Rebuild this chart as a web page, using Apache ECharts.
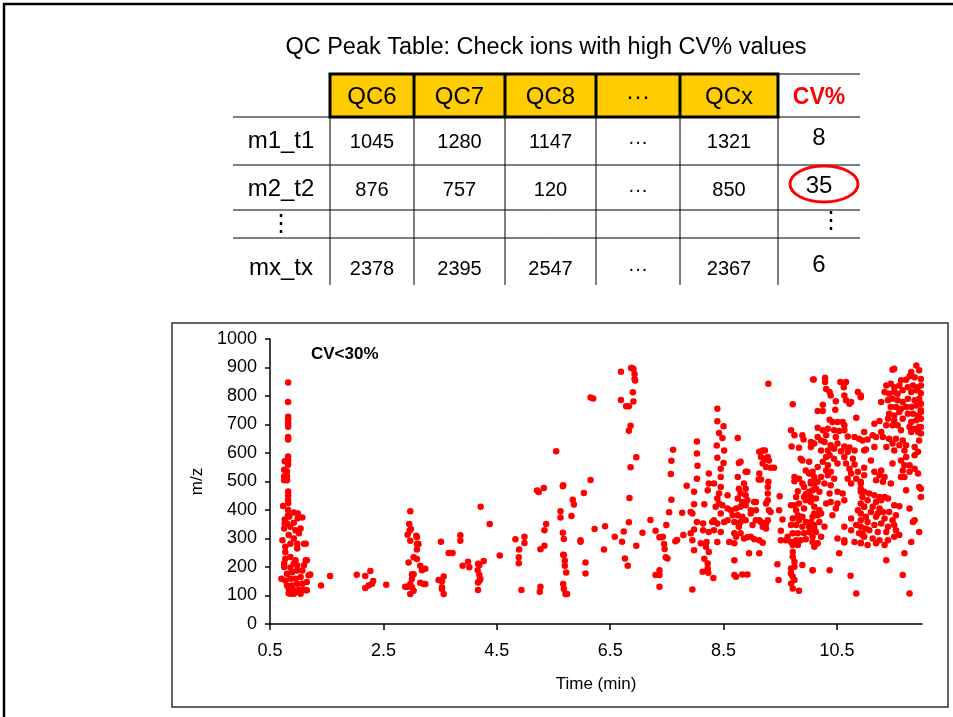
<!DOCTYPE html>
<html><head><meta charset="utf-8">
<script src="https://cdn.jsdelivr.net/npm/echarts@6/dist/echarts.min.js"></script>
<style>html,body{margin:0;padding:0;background:#fff}#c{width:953px;height:717px}</style>
</head><body><div id="c"></div>
<script>
// ---------- table content ----------
const tableTitle = 'QC Peak Table: Check ions with high CV% values';
const tableCols = ['QC6', 'QC7', 'QC8', '···', 'QCx'];
const cvHeader = 'CV%';
const tableRows = ['m1_t1', 'm2_t2', '⋮', 'mx_tx'];
const row1Vals = ['1045', '1280', '1147', '···', '1321'];
const row2Vals = ['876', '757', '120', '···', '850'];
const row3Vals = ['', '', '', '', ''];
const row4Vals = ['2378', '2395', '2547', '···', '2367'];
const cvVals = ['8', '35', '⋮', '6'];

// ---------- scatter axes ----------
const xTicks = [0.5, 2.5, 4.5, 6.5, 8.5, 10.5];
const yTicks = [0, 100, 200, 300, 400, 500, 600, 700, 800, 900, 1000];
const plotNote = 'CV<30%';

// ---------- scatter data: [time (min), m/z] ----------
const ionsEarly = [[0.82,847],[0.82,779],[0.82,727],[0.82,718],[0.82,704],[0.82,692],[0.82,656],[0.82,647],[0.82,588],[0.82,574],[0.82,559],[0.76,571],[0.8,571],[0.75,541],[0.8,535],[0.75,518],[0.8,518],[0.75,504],[0.8,504],[0.82,465],[0.82,451],[0.82,435],[0.82,424],[0.73,414],[0.82,400],[0.76,367],[0.82,382],[0.84,376],[0.92,391],[0.99,388],[1.07,374],[0.76,353],[0.8,353],[0.92,355],[0.99,371],[0.75,335],[0.86,341],[0.95,329],[1.04,335],[0.72,294],[0.83,312],[0.92,300],[1.01,318],[0.77,271],[0.86,282],[0.98,282],[1.1,282],[1.13,282],[0.77,253],[0.86,235],[0.98,265],[0.75,212],[0.77,229],[0.95,224],[1.13,224],[0.75,200],[0.86,198],[0.92,212],[0.98,205],[1.1,206],[1.15,224],[0.7,159],[0.8,176],[0.89,182],[0.98,188],[1.07,188],[0.77,153],[0.86,159],[0.95,159],[1.04,165],[1.18,171],[1.21,174],[0.8,135],[0.89,135],[0.98,141],[1.07,141],[1.15,147],[0.83,124],[0.92,118],[1.01,120],[1.1,120],[0.86,106],[0.92,106],[0.98,112],[1.04,106],[1.13,118],[1.15,118],[0.83,108],[0.89,112],[1.4,135],[1.56,168],[2.03,173],[2.18,168],[2.27,186],[2.32,151],[2.3,141],[2.24,135],[2.18,126],[2.55,138]];

const ionsMid = [[2.885,131],[2.927,131],[2.974,140],[3.003,129],[2.974,105],[3.033,117],[3.003,158],[3.003,175],[3.033,175],[2.944,216],[3.033,234],[3.091,228],[3.15,204],[3.18,189],[3.24,194],[3.15,145],[3.21,140],[3.24,140],[3.091,261],[3.091,281],[3.12,281],[3.091,304],[3.08,310],[2.974,292],[2.927,313],[2.962,327],[2.985,333],[2.956,351],[2.974,396],[3.474,154],[3.533,150],[3.563,167],[3.533,129],[3.533,123],[3.563,105],[3.515,289],[3.65,249],[3.72,249],[3.857,311],[3.857,292],[3.898,204],[3.993,218],[4.016,199],[4.169,211],[4.193,207],[4.163,189],[4.193,172],[4.21,158],[4.169,146],[4.193,152],[4.169,119],[4.269,221],[4.216,411],[4.375,351],[4.552,240],[4.829,297],[4.894,261],[4.888,234],[4.888,213],[4.988,306],[4.988,284],[4.935,119],[5.21,468],[5.24,463],[5.33,477],[5.27,262],[5.341,275],[5.341,329],[5.37,351],[5.27,131],[5.258,113],[5.547,606],[5.624,396],[5.624,374],[5.665,483],[5.671,487],[5.665,320],[5.683,298],[5.671,243],[5.683,242],[5.70,222],[5.70,204],[5.724,181],[5.671,140],[5.683,123],[5.712,105],[5.74,105],[5.818,379],[5.84,436],[5.86,419],[5.977,294],[5.977,289],[6.036,460],[6.065,216],[6.065,177],[6.154,505],[6.154,795],[6.2,791],[6.225,333]];

const ionsSeven = [[6.39,261],[6.41,343],[6.58,306],[6.71,289],[6.74,325],[6.76,230],[6.81,204],[6.83,357],[6.84,442],[6.86,550],[6.96,585],[6.96,275],[7.07,320],[7.21,365],[6.69,885],[6.87,898],[6.91,895],[6.93,877],[6.93,860],[6.94,854],[6.9,813],[6.91,781],[6.69,786],[6.78,764],[6.83,764],[6.86,696],[6.83,678],[6.88,898],[7.3,327],[7.37,304],[7.4,304],[7.43,306],[7.45,281],[7.46,263],[7.48,234],[7.51,230],[7.49,347],[7.54,392],[7.58,436],[7.57,526],[7.58,573],[7.61,611],[7.3,172],[7.37,189],[7.37,172],[7.37,131],[7.65,290],[7.68,295]];

const ionsEight = [[8.39,755],[8.39,711],[8.5,694],[8.42,670],[8.48,653],[8.03,640],[8.03,598],[8.04,555],[8.03,510],[8.38,626],[8.51,609],[8.39,583],[8.5,565],[8.45,545],[7.85,485],[7.98,464],[8.24,528],[8.24,493],[8.22,469],[8.33,493],[8.45,516],[8.45,481],[8.42,458],[8.39,440],[8.36,411],[8.42,423],[8.48,417],[7.98,420],[8.16,420],[7.95,388],[7.92,393],[7.77,390],[8.03,358],[8.14,353],[8.3,358],[8.33,364],[8.39,353],[8.45,388],[8.51,358],[8.57,364],[8.24,323],[8.33,329],[8.45,323],[8.14,329],[7.98,332],[7.92,318],[7.79,312],[7.95,294],[8.1,283],[8.2,288],[8.39,288],[8.19,271],[8.24,253],[7.98,259],[8.16,229],[8.22,212],[8.22,195],[8.13,183],[8.23,180],[8.32,161],[7.95,121],[8.57,452],[8.57,405],[8.75,653],[8.77,565],[8.8,569],[8.89,534],[8.92,534],[8.75,516],[8.86,493],[8.89,475],[8.77,475],[8.8,458],[8.89,452],[8.75,440],[8.83,428],[8.92,434],[9.04,428],[8.63,399],[8.72,405],[8.8,411],[8.89,417],[8.98,399],[8.66,382],[8.75,382],[8.83,376],[8.98,388],[8.69,358],[8.77,353],[8.89,364],[9.01,347],[8.69,318],[8.8,318],[8.92,304],[8.98,306],[9.04,297],[8.72,306],[8.6,288],[8.69,283],[8.95,248],[8.69,224],[8.69,172],[8.72,166],[8.83,174],[8.92,174],[8.86,300],[8.77,341],[8.8,358],[9.07,399]];

const ionsNine = [[9.29,843],[9.13,604],[9.19,609],[9.23,609],[9.16,586],[9.22,580],[9.28,586],[9.3,574],[9.19,563],[9.25,551],[9.33,548],[9.39,548],[9.13,528],[9.12,507],[9.16,507],[9.29,499],[9.28,481],[9.28,458],[9.28,434],[9.25,423],[9.3,399],[9.33,393],[9.07,364],[9.13,364],[9.16,358],[9.22,353],[9.25,353],[9.28,364],[9.19,341],[9.25,335],[9.48,399],[9.49,448],[9.54,367],[9.51,327],[9.51,294],[9.13,294],[9.19,285],[9.13,248],[9.45,210],[9.47,154],[9.07,428],[10.08,858],[9.72,771],[9.69,680],[9.75,662],[9.89,662],[9.91,647],[9.7,623],[9.83,618],[10.04,621],[9.86,580],[9.89,574],[10.01,569],[9.95,539],[9.75,516],[9.75,501],[9.83,510],[10.01,528],[10.07,534],[9.89,493],[9.92,481],[10.04,499],[10.1,493],[9.81,466],[9.95,455],[10.01,464],[10.07,469],[9.78,446],[9.92,446],[9.69,417],[9.75,417],[9.83,423],[9.95,434],[10.04,428],[9.78,399],[9.92,405],[10.1,388],[9.81,382],[9.89,376],[9.72,370],[9.83,364],[9.95,358],[10.04,358],[9.69,347],[9.78,347],[9.89,341],[10.01,341],[10.1,335],[9.63,306],[9.72,318],[9.81,318],[9.92,318],[10.01,323],[10.07,306],[9.6,294],[9.69,288],[9.78,294],[9.86,294],[9.95,297],[9.72,277],[9.81,277],[10.1,271],[9.72,253],[9.72,236],[9.75,218],[9.69,195],[9.75,201],[9.89,207],[9.69,177],[9.72,166],[9.75,154],[9.69,142],[9.72,125],[9.83,117],[10.07,189]];

const ionsTen = [[10.09,858],[10.29,864],[10.29,849],[10.56,849],[10.66,849],[10.31,825],[10.37,814],[10.39,802],[10.62,831],[10.63,802],[10.87,814],[10.92,802],[10.48,782],[10.66,785],[10.72,773],[10.75,779],[10.25,769],[10.16,747],[10.25,747],[10.47,752],[10.84,724],[10.37,717],[10.42,709],[10.51,709],[10.6,709],[10.63,697],[10.16,689],[10.25,680],[10.34,685],[10.45,680],[10.54,677],[10.63,680],[10.16,656],[10.31,662],[10.48,656],[10.69,658],[10.81,656],[10.89,650],[10.04,639],[10.1,633],[10.22,644],[10.28,639],[10.39,627],[10.51,633],[10.63,623],[10.72,619],[10.95,644],[10.22,609],[10.34,609],[10.45,615],[10.57,606],[10.69,604],[10.81,609],[10.31,586],[10.37,592],[10.45,580],[10.63,586],[10.78,580],[10.25,569],[10.34,557],[10.51,563],[10.66,563],[10.81,560],[10.98,609],[10.16,551],[10.31,539],[10.39,534],[10.72,545],[10.75,528],[10.87,534],[10.04,528],[10.1,516],[10.22,516],[10.34,522],[10.45,510],[10.69,510],[10.84,510],[10.98,522],[10.04,493],[10.16,499],[10.28,493],[10.39,487],[10.75,493],[10.92,493],[10.13,475],[10.19,464],[10.37,458],[10.51,464],[10.6,458],[10.92,464],[10.04,446],[10.13,440],[10.31,423],[10.39,428],[10.51,423],[10.63,434],[10.95,446],[10.1,411],[10.19,399],[10.48,405],[10.87,399],[10.98,411],[10.07,376],[10.16,382],[10.22,388],[10.42,382],[10.75,370],[10.92,364],[10.1,347],[10.19,358],[10.28,341],[10.63,341],[10.84,347],[10.04,329],[10.13,323],[10.22,306],[10.51,300],[10.63,294],[10.75,329],[10.89,318],[10.95,312],[10.07,288],[10.16,283],[10.63,286],[10.81,288],[10.92,283],[10.54,248],[10.07,189],[10.37,189],[10.74,169],[10.84,107],[10.11,277]];

const ionsEleven = [[11.48,892],[11.51,896],[11.9,907],[11.81,884],[11.95,890],[11.78,869],[11.87,866],[11.63,855],[11.72,857],[11.98,860],[11.37,837],[11.45,843],[11.51,831],[11.6,837],[11.75,831],[11.84,837],[11.93,831],[11.98,837],[11.34,814],[11.42,808],[11.51,814],[11.57,808],[11.66,820],[11.81,814],[11.9,820],[11.98,810],[11.28,779],[11.4,785],[11.48,790],[11.57,785],[11.66,779],[11.75,790],[11.87,785],[11.95,790],[11.98,773],[11.45,761],[11.54,761],[11.63,755],[11.72,761],[11.81,761],[11.9,767],[11.98,750],[11.42,738],[11.51,732],[11.6,744],[11.75,738],[11.84,738],[11.93,732],[11.98,744],[11.4,720],[11.51,715],[11.66,720],[11.81,709],[11.9,715],[11.98,720],[11.25,712],[11.48,697],[11.57,697],[11.78,691],[11.87,685],[11.95,691],[11.98,691],[11.63,680],[11.81,674],[11.93,674],[11.98,668],[11.16,703],[11.37,697],[11.28,674],[11.13,662],[10.98,674],[11.04,647],[11.19,656],[11.31,656],[11.42,650],[11.54,650],[11.66,644],[11.95,644],[11.16,621],[11.37,621],[11.48,633],[11.6,627],[11.72,627],[11.87,621],[11.01,612],[10.92,796],[11.51,609],[11.69,609],[11.93,604],[11.87,592],[11.72,586],[11.63,574],[11.48,563],[11.69,557],[11.78,557],[11.1,574],[10.98,548],[11.66,539],[11.87,545],[11.16,534],[11.28,539],[11.78,534],[11.93,528],[11.25,522],[11.34,516],[11.63,516],[11.19,504],[11.31,499],[11.45,493],[11.69,516],[10.92,499],[10.92,475],[11.95,481],[11.98,475],[11.72,469],[10.98,464],[11.07,458],[11.16,452],[11.25,446],[11.34,446],[11.04,434],[11.19,428],[11.28,434],[11.4,440],[10.92,423],[10.98,411],[11.13,411],[11.25,405],[11.51,417],[11.6,413],[11.78,405],[11.1,393],[11.22,388],[11.31,393],[11.42,393],[10.92,388],[11.01,376],[11.19,376],[11.34,370],[11.48,364],[11.54,382],[11.87,364],[11.84,358],[11.04,358],[11.16,347],[11.28,353],[11.4,341],[11.51,347],[10.92,341],[11.07,329],[11.22,323],[11.37,323],[11.54,329],[11.6,312],[10.98,306],[11.13,300],[11.25,294],[11.4,294],[11.51,306],[10.92,285],[11.04,277],[11.19,283],[11.34,277],[11.81,288],[11.69,248],[11.37,224],[11.66,172],[11.78,107],[10.95,318],[11.01,335],[11.98,446],[11.95,323]];

const allIons = [].concat(ionsEarly, ionsMid, ionsSeven, ionsEight, ionsNine, ionsTen, ionsEleven);

// ---------- layout (pixels) ----------
const FONT = 'Arial, "Liberation Sans", sans-serif';
const colX = [233, 330, 414, 505, 596, 680, 778, 860];
const rowY = [74, 117, 165, 210, 238, 285];
const rowTextY = [141, 189, 224, 268];
const rowVals = [row1Vals, row2Vals, row3Vals, row4Vals];

const g = [];
// outer slide frame
g.push({type:'line', shape:{x1:3,y1:4,x2:953,y2:4}, style:{stroke:'#000', lineWidth:2.5}, z:10});
g.push({type:'line', shape:{x1:4,y1:3,x2:4,y2:717}, style:{stroke:'#000', lineWidth:2.5}, z:10});
// plot box
g.push({type:'rect', shape:{x:172,y:323,width:776,height:384}, style:{fill:'none', stroke:'#333', lineWidth:1.5}, z:10});
// table title
g.push({type:'text', x:546, y:48, style:{text:tableTitle, font:'23.5px '+FONT, fill:'#000', textAlign:'center', textVerticalAlign:'middle'}});
// thin horizontal lines
g.push({type:'line', shape:{x1:778,y1:rowY[0],x2:colX[7],y2:rowY[0]}, style:{stroke:'#000', lineWidth:1}});
for (let r = 1; r <= 4; r++) {
  g.push({type:'line', shape:{x1:colX[0],y1:rowY[r],x2:colX[7],y2:rowY[r]}, style:{stroke:'#000', lineWidth:1}});
}
// thin vertical lines in body
for (let c = 1; c <= 6; c++) {
  g.push({type:'line', shape:{x1:colX[c],y1:rowY[1],x2:colX[c],y2:rowY[5]}, style:{stroke:'#000', lineWidth:1}});
}
// yellow header
g.push({type:'rect', shape:{x:colX[1],y:rowY[0],width:colX[6]-colX[1],height:rowY[1]-rowY[0]}, style:{fill:'#FFCC00', stroke:'#000', lineWidth:3}, z:2});
for (let c = 2; c <= 5; c++) {
  g.push({type:'line', shape:{x1:colX[c],y1:rowY[0],x2:colX[c],y2:rowY[1]}, style:{stroke:'#000', lineWidth:3}, z:3});
}
for (let c = 0; c < tableCols.length; c++) {
  g.push({type:'text', x:(colX[c+1]+colX[c+2])/2, y:97, style:{text:tableCols[c], font:'24px '+FONT, fill:'#000', textAlign:'center', textVerticalAlign:'middle'}, z:4});
}
g.push({type:'text', x:(colX[6]+colX[7])/2, y:98, style:{text:cvHeader, font:'bold 23px '+FONT, fill:'#FF0000', textAlign:'center', textVerticalAlign:'middle'}, z:4});
// rows
for (let r = 0; r < tableRows.length; r++) {
  g.push({type:'text', x:281, y:rowTextY[r], style:{text:tableRows[r], font:'24px '+FONT, fill:'#000', textAlign:'center', textVerticalAlign:'middle'}});
  for (let c = 0; c < 5; c++) {
    g.push({type:'text', x:(colX[c+1]+colX[c+2])/2, y:rowTextY[r]+1, style:{text:rowVals[r][c], font:'20px '+FONT, fill:'#000', textAlign:'center', textVerticalAlign:'middle'}});
  }
  g.push({type:'text', x:(colX[6]+colX[7])/2 + (r===2?12:0), y:rowTextY[r]-3, style:{text:cvVals[r], font:'24px '+FONT, fill:'#000', textAlign:'center', textVerticalAlign:'middle'}});
}
// highlight ellipse
g.push({type:'ellipse', shape:{cx:824,cy:184,rx:34,ry:18}, style:{fill:'none', stroke:'#FF0000', lineWidth:3}, z:5});
// plot note
g.push({type:'text', x:311, y:354, style:{text:plotNote, font:'bold 17px '+FONT, fill:'#000', textAlign:'left', textVerticalAlign:'middle'}, z:5});

const chart = echarts.init(document.getElementById('c'), null, {renderer:'canvas'});
chart.setOption({
  animation: false,
  backgroundColor: '#fff',
  grid: {left:270, right:31, top:339, bottom:93, containLabel:false},
  xAxis: {
    type:'value', min:0.5, max:12, interval:2,
    name:'Time (min)', nameLocation:'middle', nameGap:52,
    nameTextStyle:{fontSize:17, color:'#000', fontFamily:FONT},
    axisLine:{lineStyle:{color:'#000', width:1.5}},
    axisTick:{show:true, length:6, lineStyle:{color:'#000', width:1.5}, customValues:xTicks},
    axisLabel:{color:'#000', fontSize:18, fontFamily:FONT, margin:18, customValues:xTicks, formatter: v => String(v)},
    splitLine:{show:false}
  },
  yAxis: {
    type:'value', min:0, max:1000, interval:100,
    name:'m/z', nameLocation:'middle', nameGap:64, nameRotate:90,
    nameTextStyle:{fontSize:17, color:'#000', fontFamily:FONT},
    axisLine:{show:true, lineStyle:{color:'#000', width:1.5}},
    axisTick:{show:true, length:5, lineStyle:{color:'#000', width:1.5}, customValues:yTicks},
    axisLabel:{color:'#000', fontSize:18, fontFamily:FONT, margin:13, customValues:yTicks, formatter: v => String(v)},
    splitLine:{show:false}
  },
  series: [{
    type:'scatter', data: allIons, symbol:'circle', symbolSize:6.5,
    itemStyle:{color:'#FF0000', opacity:1}, silent:true
  }],
  graphic: g
});
</script></body></html>
